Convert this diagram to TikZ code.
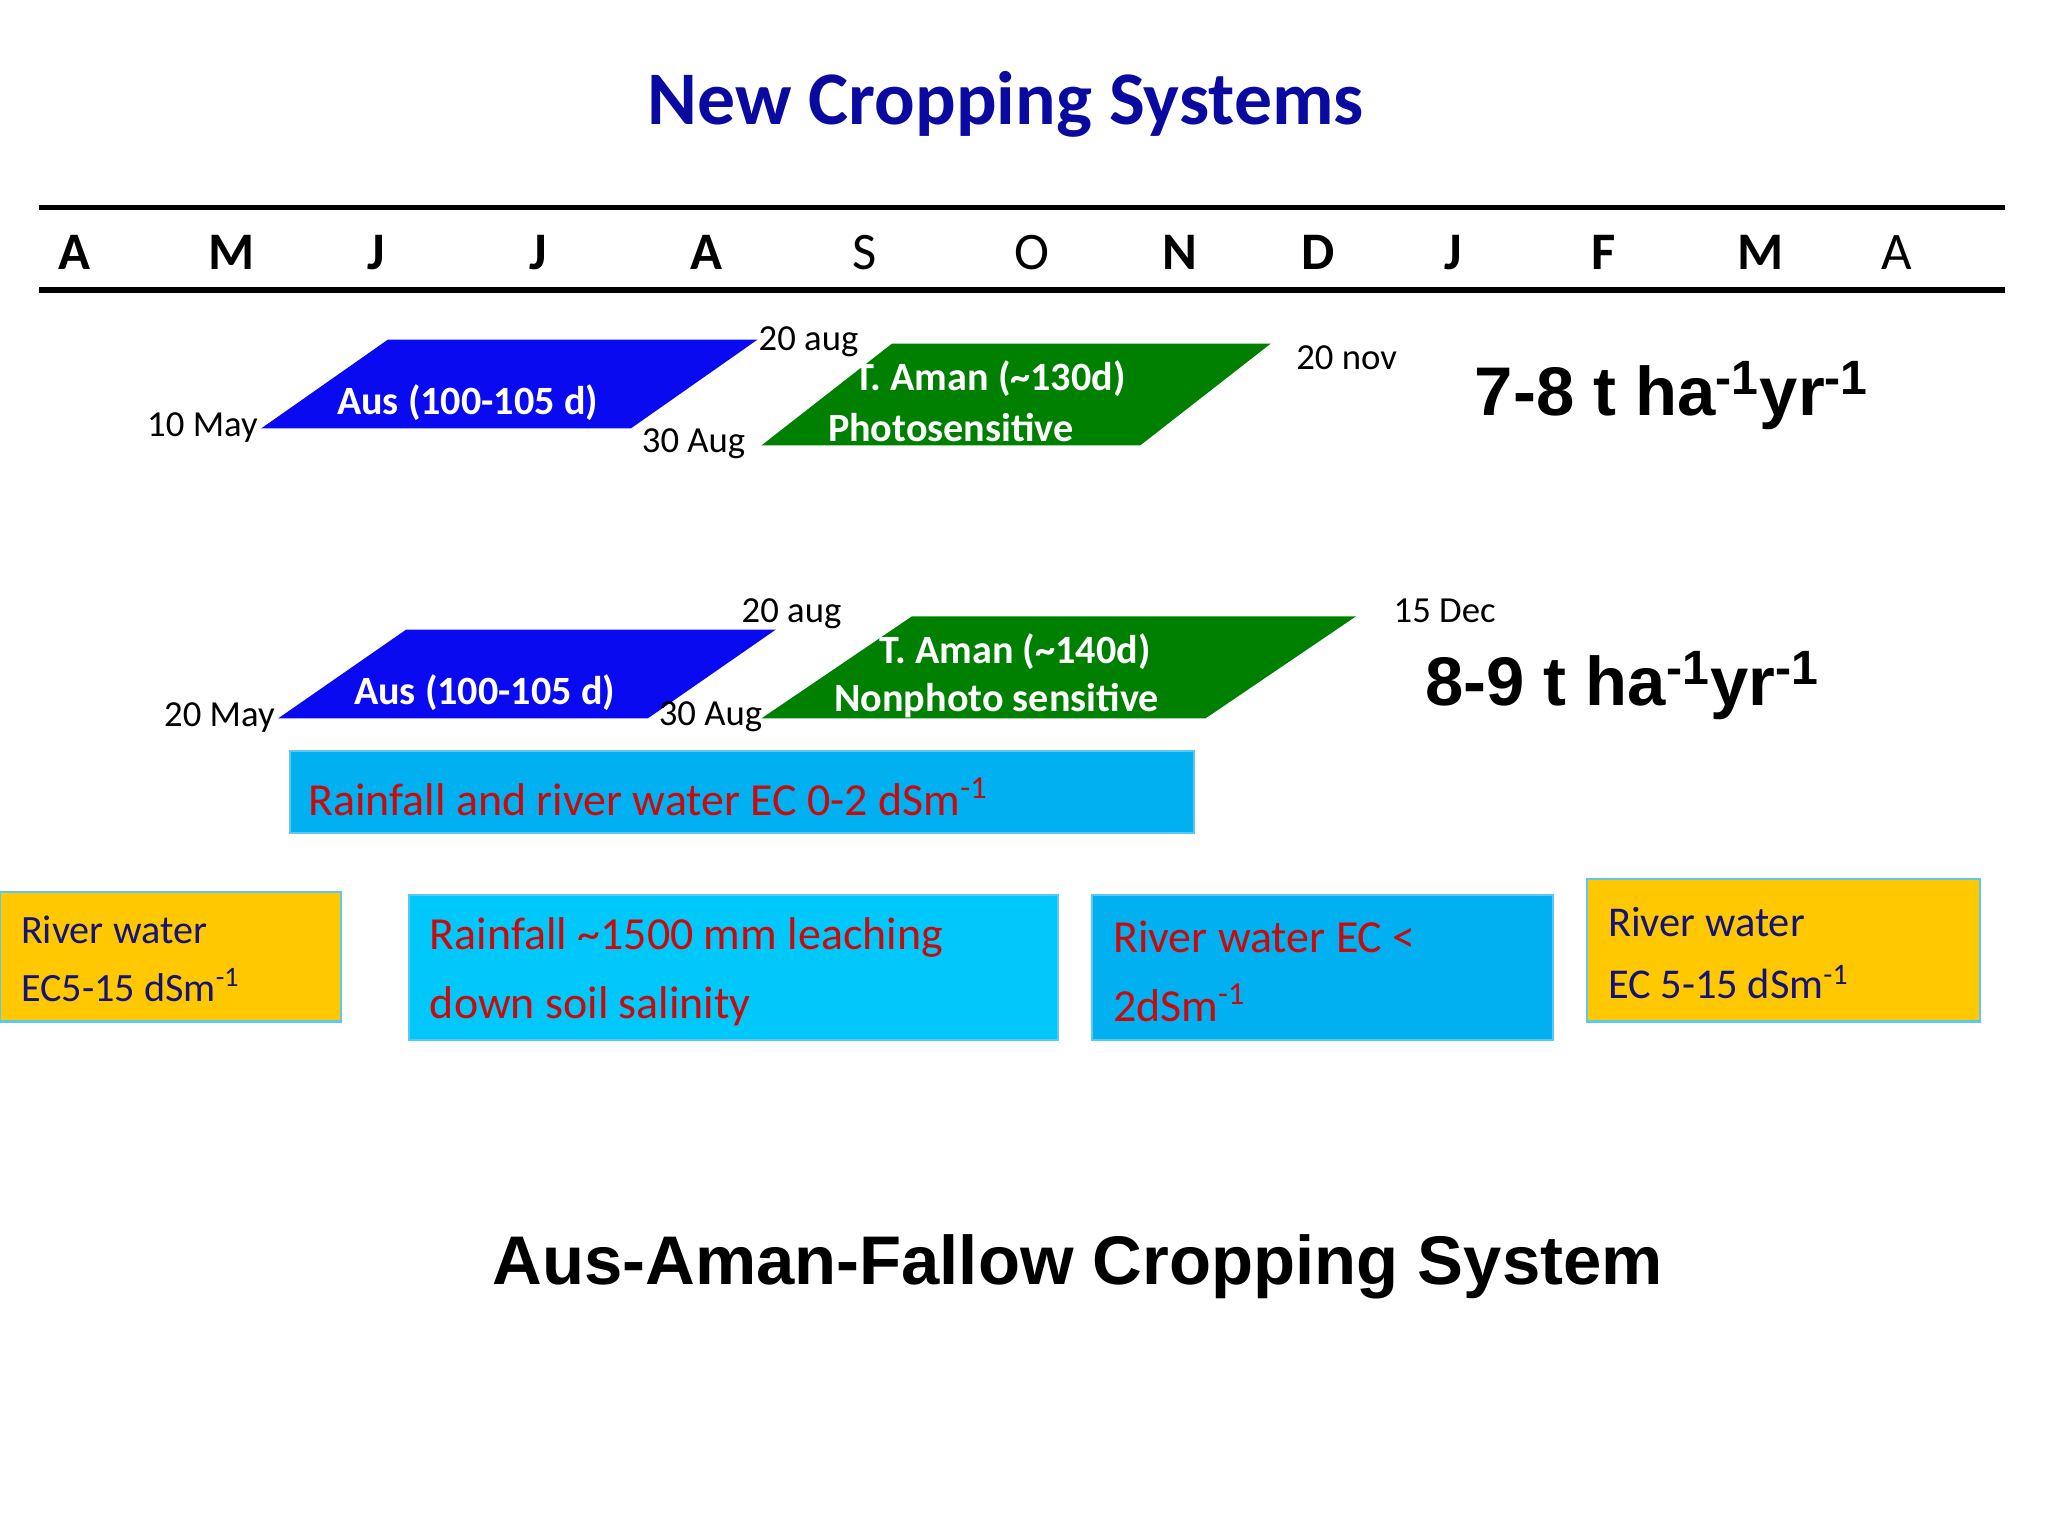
\documentclass[tikz,border=0pt]{standalone}
\usepackage{fontspec}
\setmainfont{Carlito}
\newfontfamily\arial{Liberation Sans}
\definecolor{dblue}{RGB}{10,10,160}
\definecolor{ausblue}{RGB}{10,10,240}
\definecolor{amgreen}{RGB}{0,128,0}
\definecolor{boxblue}{RGB}{0,176,240}
\definecolor{boxcyan}{RGB}{0,200,250}
\definecolor{boxyel}{RGB}{255,200,0}
\definecolor{boxedge}{RGB}{90,200,240}
\definecolor{tred}{RGB}{200,10,10}
\definecolor{tnavy}{RGB}{20,20,120}
\begin{document}
\begin{tikzpicture}[x=0.02cm,y=-0.02cm,
  mon/.style={font=\fontsize{23}{26}\selectfont},
  date/.style={font=\fontsize{16}{18}\selectfont},
  crop/.style={text=white,font=\bfseries\fontsize{17.5}{21}\selectfont,align=left},
  yield/.style={font=\arial\bfseries\fontsize{30}{34}\selectfont},
  ebox/.style={draw=boxedge,line width=1pt,anchor=north west,inner sep=0pt},
  etext/.style={anchor=west,align=left,font=\fontsize{20}{30}\selectfont}]
\useasboundingbox (0,0) rectangle (1568,1176);
\node[text=dblue,font=\bfseries\fontsize{33}{38}\selectfont] (title) at (770,80) {New Cropping Systems};
\draw[line width=2.3pt] (30,159) coordinate (l1) -- (1535,159) coordinate (l2);
\draw[line width=2.3pt] (30,222) coordinate (l3) -- (1535,222) coordinate (l4);
\foreach \x/\m/\b in {57/A/1,177/M/1,288/J/1,412/J/1,541/A/1,662/S/0,790/O/0,903/N/1,1009/D/1,1113/J/1,1228/F/1,1348/M/1,1452/A/0}{
  \ifnum\b=1 \node[mon,font=\bfseries\fontsize{23}{26}\selectfont] (m\x) at (\x,193) {\m};
  \else \node[mon] (m\x) at (\x,193) {\m}; \fi}
% row 1
\fill[ausblue] (200,328) -- (297,260) -- (580,260) -- (483,328) -- cycle;
\node[crop] (aus1) at (358,308) {Aus (100-105 d)};
\fill[amgreen] (583,341) -- (683,263) -- (973,263) -- (873,341) -- cycle;
\node[crop] (am1a) at (758,290) {T. Aman (\textasciitilde130d)};
\node[crop] (am1b) at (728,327) {Photosensitive};
\node[date] (d1) at (155,327) {10 May};
\node[date] (d2) at (619,262) {20 aug};
\node[date] (d3) at (531,340) {30 Aug};
\node[date] (d4) at (1031,274) {20 nov};
\node[yield] (y1) at (1280,303) {7-8 t ha\textsuperscript{-1}yr\textsuperscript{-1}};
% row 2
\fill[ausblue] (213,550) -- (311,482) -- (594,482) -- (496,550) -- cycle;
\node[crop] (aus2) at (371,530) {Aus (100-105 d)};
\fill[amgreen] (583,550) -- (698,472) -- (1038,472) -- (923,550) -- cycle;
\node[crop] (am2a) at (777,499) {T. Aman (\textasciitilde140d)};
\node[crop] (am2b) at (763,536) {Nonphoto sensitive};
\node[date] (e1) at (168,549) {20 May};
\node[date] (e2) at (606,470) {20 aug};
\node[date] (e3) at (544,549) {30 Aug};
\node[date] (e4) at (1106,468) {15 Dec};
\node[yield] (y2) at (1242,525) {8-9 t ha\textsuperscript{-1}yr\textsuperscript{-1}};
% boxes
\fill[boxblue,draw=boxedge,line width=1pt] (222,575) rectangle (914,638);
\node[etext,text=tred] (rain) at (230,610) {Rainfall and river water EC 0-2 dSm\textsuperscript{-1}};
\fill[boxyel,draw=boxedge,line width=1pt] (0,683) rectangle (261,782);
\node[etext,text=tnavy,font=\fontsize{17.5}{25}\selectfont] (b1) at (10,734) {River water\\EC5-15 dSm\textsuperscript{-1}};
\fill[boxcyan,draw=boxedge,line width=1pt] (313,685) rectangle (810,796);
\node[etext,text=tred] (b2) at (323,744) {Rainfall \textasciitilde1500 mm leaching\\down soil salinity};
\fill[boxblue,draw=boxedge,line width=1pt] (836,685) rectangle (1189,796);
\node[etext,text=tred] (b3) at (846,744) {River water EC <\\2dSm\textsuperscript{-1}};
\fill[boxyel,draw=boxedge,line width=1pt] (1215,673) rectangle (1516,782);
\node[etext,text=tnavy,font=\fontsize{18.5}{27}\selectfont] (b4) at (1225,730) {River water\\EC 5-15 dSm\textsuperscript{-1}};
\node[font=\arial\bfseries\fontsize{30}{34}\selectfont] (foot) at (825,970) {Aus-Aman-Fallow Cropping System};
\end{tikzpicture}
\end{document}
